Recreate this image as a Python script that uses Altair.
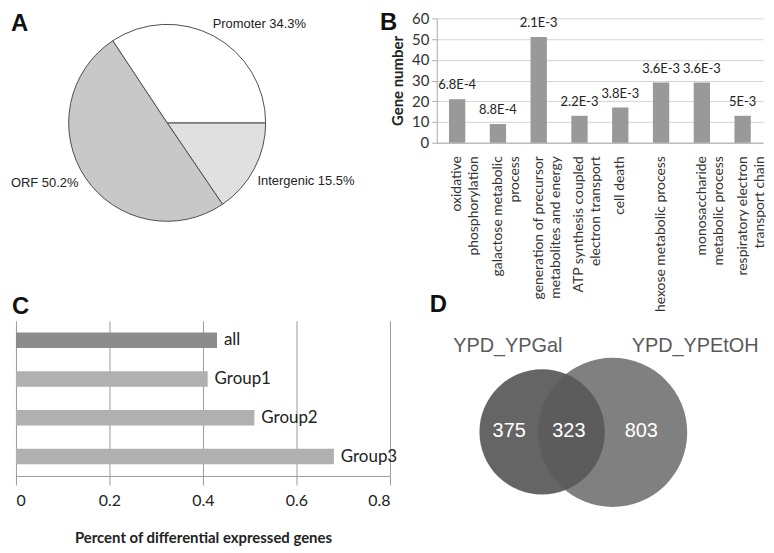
import math
import altair as alt
import pandas as pd

# ---------------- Panel A : peak location pie ----------------
pie_cats = ["Intergenic", "ORF", "Promoter"]
pie_pct = [15.5, 50.2, 34.3]
pie_fill = ["#e0e0e0", "#c8c8c8", "#ffffff"]

# ---------------- Panel B : GO enrichment ----------------
go_terms = [
    "oxidative\nphosphorylation",
    "galactose metabolic\nprocess",
    "generation of precursor\nmetabolites and energy",
    "ATP synthesis coupled\nelectron transport",
    "cell death",
    "hexose metabolic process",
    "monosaccharide\nmetabolic process",
    "respiratory electron\ntransport chain",
]
go_counts = [21, 9, 51, 13, 17, 29, 29, 13]
go_pvalues = ["6.8E-4", "8.8E-4", "2.1E-3", "2.2E-3", "3.8E-3", "3.6E-3", "3.6E-3", "5E-3"]
go_ticks = [0, 10, 20, 30, 40, 50, 60]

# ---------------- Panel C : differential expression ----------------
c_groups = ["all", "Group1", "Group2", "Group3"]
c_percent = [0.43, 0.41, 0.51, 0.68]
c_fill = ["#8c8c8c", "#b0b0b0", "#b0b0b0", "#b0b0b0"]
c_ticks = [0, 0.2, 0.4, 0.6, 0.8]

# ---------------- Panel D : Venn ----------------
venn_sets = ["YPD_YPGal", "YPD_YPEtOH"]
venn_counts = [375, 323, 803]          # only-left, shared, only-right
venn_circle_x = [3.23, 5.39]           # layout units
venn_circle_y = [4.92, 4.90]
venn_label_x = [2.18, 7.92]
venn_label_y = [8.86, 8.86]
venn_region_x = [2.22, 4.05, 6.27]
venn_region_y = [4.94, 4.94, 4.94]

LETTER = dict(anchor="start", frame="group", offset=0, font="Liberation Sans",
              fontSize=24, fontWeight="bold", color="#111111")

# ---------- A ----------
pie_df = pd.DataFrame({
    "cat": pie_cats,
    "pct": pie_pct,
    "idx": list(range(len(pie_cats))),
    "label": [f"{c} {p}%" for c, p in zip(pie_cats, pie_pct)],
})
theta = alt.Theta("pct:Q", stack=True,
                  scale=alt.Scale(range=[math.pi / 2, math.pi / 2 + 2 * math.pi]))
pie_base = alt.Chart(pie_df).encode(theta=theta, order=alt.Order("idx:Q"))
pie_arc = pie_base.mark_arc(outerRadius=99, stroke="#4d4d4d", strokeWidth=1).encode(
    color=alt.Color("cat:N", scale=alt.Scale(domain=pie_cats, range=pie_fill), legend=None)
)


def pie_label(cat, **kw):
    return pie_base.mark_text(radius=105, font="Liberation Sans", fontSize=13,
                              color="#222222", **kw).encode(
        text=alt.condition(alt.datum.cat == cat, alt.Text("label:N"), alt.value(""))
    )


A = alt.layer(
    pie_arc,
    pie_label("Promoter", align="left", baseline="bottom", dx=-4),
    pie_label("Intergenic", align="left", baseline="top", dy=3, dx=-2),
    pie_label("ORF", align="right", baseline="middle", dy=2, dx=-2),
).properties(width=304, height=210, title=alt.TitleParams("A", dx=-5, dy=18, **LETTER))

# ---------- B ----------
b_df = pd.DataFrame({"term": go_terms, "count": go_counts, "p": go_pvalues})
b_x = alt.X("term:N", sort=None,
            scale=alt.Scale(paddingInner=0.6, paddingOuter=0.3),
            axis=alt.Axis(title=None, labelAngle=-90, labelAlign="right", labelBaseline="middle",
                          labelExpr="split(datum.label, '\\n')", labelFont="Lato",
                          labelFontSize=14, labelColor="#333333", labelLineHeight=17,
                          labelPadding=13, ticks=False, domainColor="#aaaaaa", labelLimit=0))
b_y = alt.Y("count:Q", scale=alt.Scale(domain=[0, 60], nice=False),
            axis=alt.Axis(values=go_ticks, title="Gene number", titleFont="Lato",
                          titleFontSize=15, titleFontWeight="bold", titleColor="#222222",
                          titlePadding=6, labelFont="Lato", labelFontSize=15,
                          labelColor="#333333", labelPadding=3, gridColor="#d4d4d4",
                          domainColor="#aaaaaa", tickColor="#aaaaaa", tickSize=5))
b_bars = alt.Chart(b_df).mark_bar(color="#999999").encode(x=b_x, y=b_y)
b_text = alt.Chart(b_df).mark_text(baseline="bottom", dy=-7, font="Lato", fontSize=13,
                                   color="#222222").encode(x=b_x, y=b_y, text="p:N")
B = alt.layer(b_bars, b_text).properties(
    width=328, height=125, title=alt.TitleParams("B", dx=-57, dy=24, **LETTER))

# ---------- C ----------
c_df = pd.DataFrame({"group": c_groups, "pct": c_percent})
c_y = alt.Y("group:N", sort=None, scale=alt.Scale(paddingInner=0.6, paddingOuter=0.3), axis=None)
c_x = alt.X("pct:Q", scale=alt.Scale(domain=[0, 0.8], nice=False),
            axis=alt.Axis(values=c_ticks, format="~g",
                          title="Percent of differential expressed genes",
                          grid=True, gridColor="#9a9a9a", domainColor="#9a9a9a",
                          tickColor="#9a9a9a", tickSize=9, labelPadding=8, labelFont="Lato",
                          labelFontSize=16, labelColor="#222222", titleFont="Lato",
                          titleFontSize=15, titleFontWeight="bold", titleColor="#222222",
                          titlePadding=22))
c_bars = alt.Chart(c_df).mark_bar().encode(
    x=c_x, y=c_y,
    color=alt.Color("group:N", scale=alt.Scale(domain=c_groups, range=c_fill), legend=None))
c_text = alt.Chart(c_df).mark_text(align="left", baseline="middle", dx=7, font="Lato",
                                   fontSize=17, color="#222222").encode(x=c_x, y=c_y, text="group:N")
C = alt.layer(c_bars, c_text).properties(
    width=376, height=156, title=alt.TitleParams("C", dx=-4, dy=-2, **LETTER))

# ---------- D ----------
circ_df = pd.DataFrame({
    "set": venn_sets,
    "x": venn_circle_x,
    "y": venn_circle_y,
    "total": [venn_counts[0] + venn_counts[1], venn_counts[1] + venn_counts[2]],
})
lab_df = pd.DataFrame({"set": venn_sets, "x": venn_label_x, "y": venn_label_y})
reg_df = pd.DataFrame({"n": [str(v) for v in venn_counts], "x": venn_region_x, "y": venn_region_y})

d_x = alt.X("x:Q", scale=alt.Scale(domain=[0, 10], nice=False, zero=False), axis=None)
d_y = alt.Y("y:Q", scale=alt.Scale(domain=[0, 10], nice=False, zero=False), axis=None)
d_size = alt.Size("total:Q", scale=alt.Scale(domain=[698, 1126], range=[15876, 22500], zero=False),
                  legend=None)
d_right = alt.Chart(circ_df).transform_filter(alt.datum.set == "YPD_YPEtOH").mark_point(
    filled=True, shape="circle", color="#808080", opacity=1, strokeWidth=0
).encode(x=d_x, y=d_y, size=d_size)
d_left = alt.Chart(circ_df).transform_filter(alt.datum.set == "YPD_YPGal").mark_point(
    filled=True, shape="circle", color="#595959", opacity=0.93, strokeWidth=0
).encode(x=d_x, y=d_y, size=d_size)
d_labels = alt.Chart(lab_df).mark_text(font="Liberation Sans", fontSize=20, color="#5a5a5a",
                                       baseline="middle").encode(x=d_x, y=d_y, text="set:N")
d_regions = alt.Chart(reg_df).mark_text(font="Liberation Sans", fontSize=20, color="#ffffff",
                                        baseline="middle").encode(x=d_x, y=d_y, text="n:N")
D = alt.layer(d_right, d_left, d_labels, d_regions).properties(
    width=328, height=220, title=alt.TitleParams("D", dx=-7, dy=-4, **LETTER))

chart = alt.concat(
    A, B, C, D, columns=2, spacing={"row": 94, "column": 47}, bounds="flush", align="each"
).resolve_scale(color="independent", size="independent").properties(
    padding={"top": 2, "left": 2, "right": 0, "bottom": 0}).configure_view(stroke=None)

chart.save("out.html", embed_options={"renderer": "svg", "actions": False})
